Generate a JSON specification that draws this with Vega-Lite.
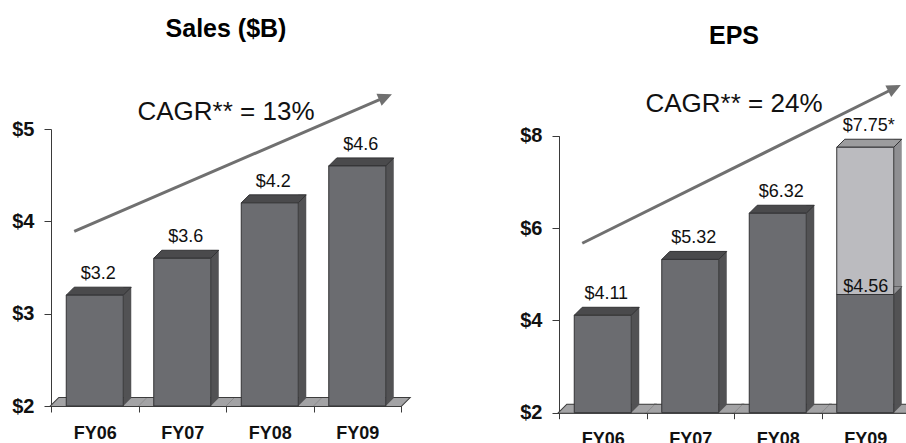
{
  "$schema": "https://vega.github.io/schema/vega-lite/v6.json",
  "padding": {"left": 11, "top": 16, "right": 0, "bottom": 0},
  "bounds": "flush",
  "spacing": 158,
  "datasets": {
    "sales": [
      {"year": "FY06", "segment": "core", "low": 2, "value": 3.2, "label": "$3.2"},
      {"year": "FY07", "segment": "core", "low": 2, "value": 3.6, "label": "$3.6"},
      {"year": "FY08", "segment": "core", "low": 2, "value": 4.2, "label": "$4.2"},
      {"year": "FY09", "segment": "core", "low": 2, "value": 4.6, "label": "$4.6"}
    ],
    "eps": [
      {"year": "FY06", "segment": "core", "low": 2, "value": 4.11, "label": "$4.11"},
      {"year": "FY07", "segment": "core", "low": 2, "value": 5.32, "label": "$5.32"},
      {"year": "FY08", "segment": "core", "low": 2, "value": 6.32, "label": "$6.32"},
      {"year": "FY09", "segment": "core", "low": 2, "value": 4.56, "label": "$4.56"},
      {"year": "FY09", "segment": "extra", "low": 4.56, "value": 7.75, "label": "$7.75*"}
    ],
    "salesTrend": [
      {"from": "FY06", "to": "FY09", "startValue": 3.89, "endValue": 5.36, "text": "CAGR** = 13%", "textAt": "FY08", "textValue": 5.1}
    ],
    "epsTrend": [
      {"from": "FY06", "to": "FY09", "startValue": 5.67, "endValue": 9.06, "text": "CAGR** = 24%", "textAt": "FY08", "textValue": 8.51}
    ]
  },
  "config": {
    "font": "Liberation Sans",
    "view": {"stroke": null},
    "axis": {"domainColor": "#3a3a3a", "tickColor": "#3a3a3a", "labelColor": "#111111", "labelFont": "Liberation Sans", "labelFontWeight": "bold", "grid": false},
    "axisX": {"labelFontSize": 18, "tickSize": 6, "labelPadding": 12, "labelAngle": 0, "tickBand": "extent"},
    "axisY": {"labelFontSize": 20, "tickSize": 7, "labelPadding": 10, "labelExpr": "'$' + datum.value"},
    "title": {"font": "Liberation Sans", "fontSize": 25, "fontWeight": "bold", "color": "#000000", "frame": "group", "anchor": "middle"}
  },
  "hconcat": [
    {
      "width": 350,
      "height": 277,
      "title": {"text": "Sales ($B)", "offset": 52},
      "layer": [
        {
          "data": {"name": "sales"},
          "transform": [{"filter": "datum.segment === 'core'"}],
          "mark": {"type": "point", "shape": "M-43.75,0L-35.75,-8L51.75,-8L43.75,0Z", "size": 4, "filled": true, "fill": "#a3a3a5", "stroke": "#3c3c3c", "strokeWidth": 2, "opacity": 1},
          "encoding": {
            "x": {"field": "year", "type": "nominal", "scale": {"domain": ["FY06", "FY07", "FY08", "FY09"], "paddingInner": 0, "paddingOuter": 0}, "title": null},
            "y": {"field": "low", "type": "quantitative", "scale": {"domain": [2, 5], "nice": false, "zero": false}, "axis": {"values": [2, 3, 4, 5]}, "title": null}
          }
        },
        {
          "data": {"name": "sales"},
          "transform": [{"filter": "datum.segment === 'core'"}],
          "mark": {"type": "point", "shape": "M-43.75,0L-35.75,-8L51.75,-8L43.75,0Z", "size": 4, "filled": true, "fill": "#a3a3a5", "strokeWidth": 0, "opacity": 1},
          "encoding": {
            "x": {"field": "year", "type": "nominal", "title": null},
            "y": {"field": "low", "type": "quantitative", "title": null}
          }
        },
        {
          "data": {"name": "sales"},
          "mark": {"type": "bar", "width": 8, "xOffset": 32.5, "yOffset": -8, "y2Offset": -8},
          "encoding": {
            "x": {"field": "year", "type": "nominal", "title": null},
            "y": {"field": "value", "type": "quantitative", "title": null},
            "y2": {"field": "low"},
            "fill": {"condition": {"test": "datum.segment === 'extra'", "value": "#8f8f92"}, "value": "#525254"}
          }
        },
        {
          "data": {"name": "sales"},
          "mark": {"type": "point", "shape": "M-28.5,0L-20.5,-8L36.5,-8L28.5,0Z", "size": 4, "filled": true, "stroke": "#333335", "strokeWidth": 1, "opacity": 1},
          "encoding": {
            "x": {"field": "year", "type": "nominal", "title": null},
            "y": {"field": "value", "type": "quantitative", "title": null},
            "fill": {"condition": {"test": "datum.segment === 'extra'", "value": "#9c9c9e"}, "value": "#4a4a4c"}
          }
        },
        {
          "data": {"name": "sales"},
          "mark": {"type": "point", "shape": "M28.5,0L28.5,-8L36.5,-8Z", "size": 4, "filled": true, "strokeWidth": 0, "opacity": 1},
          "encoding": {
            "x": {"field": "year", "type": "nominal", "title": null},
            "y": {"field": "low", "type": "quantitative", "title": null},
            "fill": {"condition": {"test": "datum.segment === 'extra'", "value": "#8f8f92"}, "value": "#525254"}
          }
        },
        {
          "data": {"name": "sales"},
          "mark": {"type": "bar", "width": 57, "stroke": "#333335", "strokeWidth": 1},
          "encoding": {
            "x": {"field": "year", "type": "nominal", "title": null},
            "y": {"field": "value", "type": "quantitative", "title": null},
            "y2": {"field": "low"},
            "fill": {"condition": {"test": "datum.segment === 'extra'", "value": "#bbbbbf"}, "value": "#6b6c70"}
          }
        },
        {
          "data": {"name": "sales"},
          "mark": {"type": "text", "fontSize": 18, "dx": 3.5, "dy": -16, "baseline": "alphabetic", "align": "center", "color": "#111111"},
          "encoding": {
            "x": {"field": "year", "type": "nominal", "title": null},
            "y": {"field": "value", "type": "quantitative", "title": null},
            "text": {"field": "label"}
          }
        },
        {
          "data": {"name": "salesTrend"},
          "mark": {"type": "rule", "color": "#707070", "strokeWidth": 3, "xOffset": -20.5, "x2Offset": 31},
          "encoding": {
            "x": {"field": "from", "type": "nominal", "title": null},
            "x2": {"field": "to"},
            "y": {"field": "startValue", "type": "quantitative", "title": null},
            "y2": {"field": "endValue"}
          }
        },
        {
          "data": {"name": "salesTrend"},
          "mark": {"type": "point", "shape": "M4,0L-10,-6.5L-10,6.5Z", "size": 4, "filled": true, "fill": "#707070", "strokeWidth": 0, "opacity": 1, "angle": -23.45, "xOffset": 31},
          "encoding": {
            "x": {"field": "to", "type": "nominal", "title": null},
            "y": {"field": "endValue", "type": "quantitative", "title": null}
          }
        },
        {
          "data": {"name": "salesTrend"},
          "mark": {"type": "text", "fontSize": 26, "baseline": "alphabetic", "align": "center", "color": "#111111"},
          "encoding": {
            "x": {"field": "textAt", "type": "nominal", "bandPosition": 0, "title": null},
            "y": {"field": "textValue", "type": "quantitative", "title": null},
            "text": {"field": "text"}
          }
        }
      ]
    },
    {
      "width": 350,
      "height": 283.7,
      "title": {"text": "EPS", "offset": 36},
      "layer": [
        {
          "data": {"name": "eps"},
          "transform": [{"filter": "datum.segment === 'core'"}],
          "mark": {"type": "point", "shape": "M-43.75,0L-35.75,-8L51.75,-8L43.75,0Z", "size": 4, "filled": true, "fill": "#a3a3a5", "stroke": "#3c3c3c", "strokeWidth": 2, "opacity": 1},
          "encoding": {
            "x": {"field": "year", "type": "nominal", "scale": {"domain": ["FY06", "FY07", "FY08", "FY09"], "paddingInner": 0, "paddingOuter": 0}, "title": null},
            "y": {"field": "low", "type": "quantitative", "scale": {"domain": [2, 8], "nice": false, "zero": false, "range": [283.7, 6.7]}, "axis": {"values": [2, 4, 6, 8]}, "title": null}
          }
        },
        {
          "data": {"name": "eps"},
          "transform": [{"filter": "datum.segment === 'core'"}],
          "mark": {"type": "point", "shape": "M-43.75,0L-35.75,-8L51.75,-8L43.75,0Z", "size": 4, "filled": true, "fill": "#a3a3a5", "strokeWidth": 0, "opacity": 1},
          "encoding": {
            "x": {"field": "year", "type": "nominal", "title": null},
            "y": {"field": "low", "type": "quantitative", "title": null}
          }
        },
        {
          "data": {"name": "eps"},
          "mark": {"type": "bar", "width": 8, "xOffset": 32.5, "yOffset": -8, "y2Offset": -8},
          "encoding": {
            "x": {"field": "year", "type": "nominal", "title": null},
            "y": {"field": "value", "type": "quantitative", "title": null},
            "y2": {"field": "low"},
            "fill": {"condition": {"test": "datum.segment === 'extra'", "value": "#8f8f92"}, "value": "#525254"}
          }
        },
        {
          "data": {"name": "eps"},
          "mark": {"type": "point", "shape": "M-28.5,0L-20.5,-8L36.5,-8L28.5,0Z", "size": 4, "filled": true, "stroke": "#333335", "strokeWidth": 1, "opacity": 1},
          "encoding": {
            "x": {"field": "year", "type": "nominal", "title": null},
            "y": {"field": "value", "type": "quantitative", "title": null},
            "fill": {"condition": {"test": "datum.segment === 'extra'", "value": "#9c9c9e"}, "value": "#4a4a4c"}
          }
        },
        {
          "data": {"name": "eps"},
          "mark": {"type": "point", "shape": "M28.5,0L28.5,-8L36.5,-8Z", "size": 4, "filled": true, "strokeWidth": 0, "opacity": 1},
          "encoding": {
            "x": {"field": "year", "type": "nominal", "title": null},
            "y": {"field": "low", "type": "quantitative", "title": null},
            "fill": {"condition": {"test": "datum.segment === 'extra'", "value": "#8f8f92"}, "value": "#525254"}
          }
        },
        {
          "data": {"name": "eps"},
          "mark": {"type": "bar", "width": 57, "stroke": "#333335", "strokeWidth": 1},
          "encoding": {
            "x": {"field": "year", "type": "nominal", "title": null},
            "y": {"field": "value", "type": "quantitative", "title": null},
            "y2": {"field": "low"},
            "fill": {"condition": {"test": "datum.segment === 'extra'", "value": "#bbbbbf"}, "value": "#6b6c70"}
          }
        },
        {
          "data": {"name": "eps"},
          "transform": [{"filter": "datum.year !== 'FY09' || datum.segment === 'extra'"}],
          "mark": {"type": "text", "fontSize": 18, "dx": 3.5, "dy": -16, "baseline": "alphabetic", "align": "center", "color": "#111111"},
          "encoding": {
            "x": {"field": "year", "type": "nominal", "title": null},
            "y": {"field": "value", "type": "quantitative", "title": null},
            "text": {"field": "label"}
          }
        },
        {
          "data": {"name": "eps"},
          "transform": [{"filter": "datum.year === 'FY09' && datum.segment === 'core'"}],
          "mark": {"type": "text", "fontSize": 18, "dx": 0.5, "dy": -3, "baseline": "alphabetic", "align": "center", "color": "#111111"},
          "encoding": {
            "x": {"field": "year", "type": "nominal", "title": null},
            "y": {"field": "value", "type": "quantitative", "title": null},
            "text": {"field": "label"}
          }
        },
        {
          "data": {"name": "epsTrend"},
          "mark": {"type": "rule", "color": "#707070", "strokeWidth": 3, "xOffset": -20.5, "x2Offset": 32},
          "encoding": {
            "x": {"field": "from", "type": "nominal", "title": null},
            "x2": {"field": "to"},
            "y": {"field": "startValue", "type": "quantitative", "title": null},
            "y2": {"field": "endValue"}
          }
        },
        {
          "data": {"name": "epsTrend"},
          "mark": {"type": "point", "shape": "M4,0L-10,-6.5L-10,6.5Z", "size": 4, "filled": true, "fill": "#707070", "strokeWidth": 0, "opacity": 1, "angle": -26.4, "xOffset": 32},
          "encoding": {
            "x": {"field": "to", "type": "nominal", "title": null},
            "y": {"field": "endValue", "type": "quantitative", "title": null}
          }
        },
        {
          "data": {"name": "epsTrend"},
          "mark": {"type": "text", "fontSize": 26, "baseline": "alphabetic", "align": "center", "color": "#111111"},
          "encoding": {
            "x": {"field": "textAt", "type": "nominal", "bandPosition": 0, "title": null},
            "y": {"field": "textValue", "type": "quantitative", "title": null},
            "text": {"field": "text"}
          }
        }
      ]
    }
  ]
}
